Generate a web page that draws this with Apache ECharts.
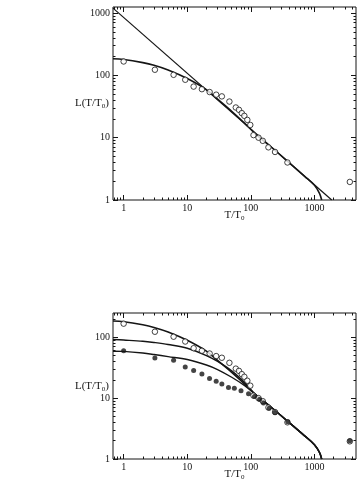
<!DOCTYPE html>
<html><head><meta charset="utf-8">
<script src="https://cdn.jsdelivr.net/npm/echarts@6/dist/echarts.min.js"></script>
<style>html,body{margin:0;padding:0;background:#fff}#c{width:358px;height:487px}</style>
</head><body><div id="c"></div>
<script>
// ---- data ----
const openT = [1, 3.1, 6.1, 9.3, 12.6, 17, 22.5, 28.5, 35, 46, 58, 65, 72, 79, 88, 98, 110, 132, 154, 189, 240, 376, 3600];
const openL = [167, 123, 102, 85, 66, 60, 54, 49, 46, 38, 30.5, 28, 24.8, 22.4, 19.3, 16, 11, 10, 8.9, 7.0, 5.9, 4.0, 1.95];
const filledT = [1, 3.1, 6.1, 9.3, 12.6, 17, 22.4, 28.5, 35, 44.5, 55, 70, 92, 114, 137, 158, 194, 240, 381, 3600];
const filledL = [60, 45.6, 41.8, 32.4, 28.3, 25, 21, 18.9, 17.1, 15, 14.5, 13.2, 11.8, 10.6, 9.5, 8.3, 6.8, 5.8, 4.1, 2.0];
const powerLawT = [0.68, 1870];
const powerLawL = [1200, 1];
const fitHighT = [0.68, 1, 2, 3, 5, 10, 20, 30, 50, 80];
const fitHighL = [185, 180, 160, 145, 122, 89, 59, 41.5, 26.5, 17];
const fitMidT = [0.68, 1, 2, 3, 5, 10, 20, 30, 50, 80];
const fitMidL = [92, 90, 86, 82, 76, 66, 50, 40, 28, 18];
const fitLowT = [0.68, 1, 2, 3, 5, 10, 20, 30, 50, 80];
const fitLowL = [59, 58.5, 55, 52, 48, 43, 35, 29.5, 22, 16];
const tailT = [120, 200, 400, 700, 1000, 1200, 1300];
const tailL = [11.3, 7.35, 3.97, 2.4, 1.72, 1.28, 1.0];
const xTickLabels = [1, 10, 100, 1000];
const yTickLabelsTop = [1, 10, 100, 1000];
const yTickLabelsBottom = [1, 10, 100];

const xRange = [0.68, 4500];
const yRangeTop = [1, 1250];
const yRangeBottom = [1, 250];

function pairs(t, l) { return t.map((v, i) => [v, l[i]]); }
function minorTicks(lo, hi) {
  const out = [];
  for (let d = 0.1; d <= 1000; d *= 10) for (let m = 2; m <= 9; m++) {
    const v = +(m * d).toPrecision(3);
    if (v > lo && v < hi) out.push(v);
  }
  return out;
}
const INK = '#151515';
const FONT = 'Liberation Serif';

function axis(dim, grid, pos, range, majors, major, showLabel, name) {
  const a = {
    type: 'log', logBase: 10, gridIndex: grid, position: pos,
    min: range[0], max: range[1],
    axisLine: { show: false }, splitLine: { show: false },
    axisTick: { show: true, inside: true, length: major ? 5 : 2.5,
      customValues: major ? majors : minorTicks(range[0], range[1]),
      lineStyle: { color: INK, width: 1 } },
    axisLabel: { show: showLabel, customValues: majors,
      formatter: v => String(Math.round(v)),
      fontFamily: FONT, fontSize: 10, color: INK, margin: 3 },
    axisPointer: { show: false }
  };
  if (name) {
    a.name = name;
    a.nameLocation = 'middle';
    a.nameMoveOverlap = false;
    a.nameTextStyle = { fontFamily: FONT, fontSize: 11, color: INK,
      rich: { s: { fontFamily: FONT, fontSize: 7, color: INK, padding: [6, 0, 0, 0] } } };
    if (dim === 'y') { a.nameRotate = 0; a.nameGap = 4; } else { a.nameGap = 9; }
  }
  return a;
}

const xAxis = [], yAxis = [];
[[0, yRangeTop, yTickLabelsTop], [1, yRangeBottom, yTickLabelsBottom]].forEach(([g, yr, yl]) => {
  xAxis.push(axis('x', g, 'bottom', xRange, xTickLabels, true, true, 'T/T{s|0}'));
  xAxis.push(axis('x', g, 'bottom', xRange, xTickLabels, false, false));
  xAxis.push(axis('x', g, 'top', xRange, xTickLabels, true, false));
  xAxis.push(axis('x', g, 'top', xRange, xTickLabels, false, false));
  yAxis.push(axis('y', g, 'left', yr, yl, true, true, 'L(T/T{s|0})'));
  yAxis.push(axis('y', g, 'left', yr, yl, false, false));
  yAxis.push(axis('y', g, 'right', yr, yl, true, false));
  yAxis.push(axis('y', g, 'right', yr, yl, false, false));
});

function lineSeries(idx, data, width) {
  return { type: 'line', xAxisIndex: idx, yAxisIndex: idx, data: data, smooth: 0.35,
    showSymbol: false, symbol: 'none', lineStyle: { color: INK, width: width }, z: 2, silent: true };
}
function scatterSeries(idx, data, filled) {
  return { type: 'scatter', xAxisIndex: idx, yAxisIndex: idx, data: data,
    symbol: 'circle', symbolSize: filled ? 5 : 5.5,
    itemStyle: filled ? { color: INK } : { color: '#fff', borderColor: INK, borderWidth: 1 },
    z: filled ? 4 : 3, silent: true };
}
const highFit = pairs(fitHighT.concat(tailT), fitHighL.concat(tailL));
const series = [
  { type: 'line', xAxisIndex: 0, yAxisIndex: 0, data: pairs(powerLawT, powerLawL), symbol: 'none',
    lineStyle: { color: INK, width: 1.2 }, z: 2, silent: true },
  lineSeries(0, highFit, 1.6),
  scatterSeries(0, pairs(openT, openL), false),
  lineSeries(4, highFit, 1.6),
  lineSeries(4, pairs(fitMidT.concat(tailT), fitMidL.concat(tailL)), 1.4),
  lineSeries(4, pairs(fitLowT.concat(tailT), fitLowL.concat(tailL)), 1.4),
  scatterSeries(4, pairs(openT, openL), false),
  scatterSeries(4, pairs(filledT, filledL), true)
];

const chart = echarts.init(document.getElementById('c'), null, { renderer: 'canvas' });
chart.setOption({
  animation: false,
  backgroundColor: '#fff',
  grid: [
    { left: 113, top: 7, width: 243, height: 193, show: true, borderColor: INK, borderWidth: 1, backgroundColor: 'transparent' },
    { left: 113, top: 313, width: 243, height: 146, show: true, borderColor: INK, borderWidth: 1, backgroundColor: 'transparent' }
  ],
  xAxis: xAxis, yAxis: yAxis, series: series
});
</script></body></html>
